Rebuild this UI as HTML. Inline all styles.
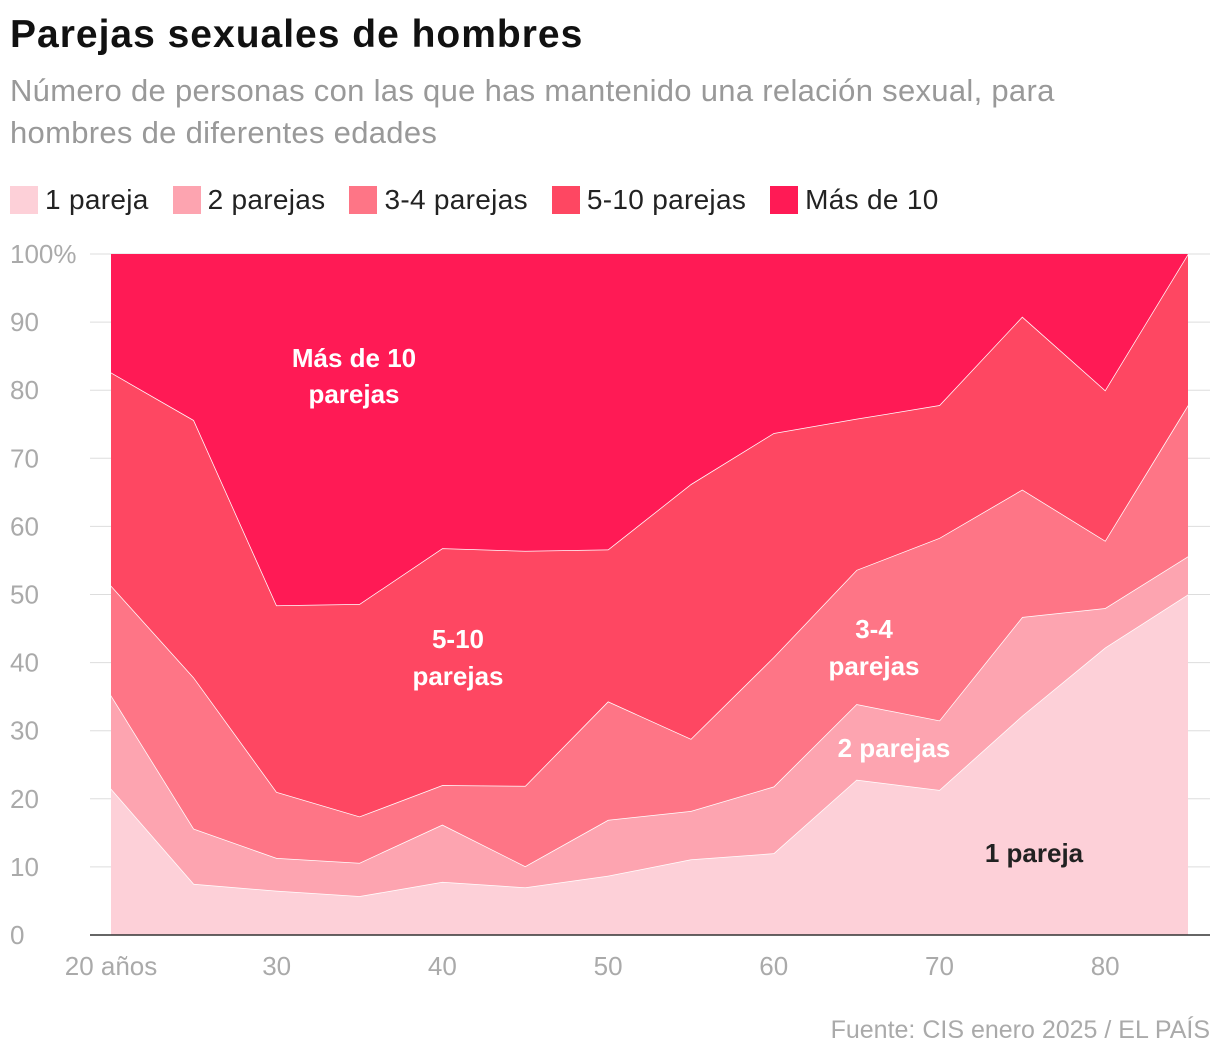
<!DOCTYPE html>
<html><head><meta charset="utf-8"><style>
body{margin:0;background:#fff;width:1220px;height:1060px;overflow:hidden;font-family:"Liberation Sans",sans-serif}
h1{position:absolute;left:10px;top:13px;margin:0;font-size:39px;font-weight:bold;color:#111;letter-spacing:1px}
.sub{position:absolute;left:10px;top:70px;font-size:31px;line-height:42px;color:#999;width:1120px;letter-spacing:0.3px}
.legend{position:absolute;left:10px;top:184px;font-size:28px;color:#222;display:flex;gap:24px;letter-spacing:0.3px}
.legend span{display:flex;align-items:center}
.legend i{display:inline-block;width:28px;height:28px;margin-right:7px}
</style></head><body>
<h1>Parejas sexuales de hombres</h1>
<div class="sub">Número de personas con las que has mantenido una relación sexual, para hombres de diferentes edades</div>
<div class="legend">
<span><i style="background:#fdd0d8"></i>1 pareja</span>
<span><i style="background:#fda4b0"></i>2 parejas</span>
<span><i style="background:#fe7586"></i>3-4 parejas</span>
<span><i style="background:#fe4762"></i>5-10 parejas</span>
<span><i style="background:#ff1a55"></i>Más de 10</span>
</div>
<svg id="chart" width="1220" height="1060" style="position:absolute;left:0;top:0"></svg>
<script>
const ages=[20,25,30,35,40,45,50,55,60,65,70,75,80,85];
const s1=[21.5,7.5,6.5,5.7,7.8,7,8.7,11.1,12,22.8,21.3,32.2,42.2,50];
const s2=[13.7,8.1,4.8,4.9,8.4,3.1,8.2,7.1,9.8,11.1,10.2,14.5,5.8,5.6];
const s3=[16.1,22.2,9.7,6.8,5.8,11.8,17.4,10.6,19,19.7,26.8,18.7,9.9,22.2];
const s4=[31.3,37.8,27.4,31.2,34.8,34.5,22.3,37.4,32.9,22.2,19.5,25.4,22.1,22.2];
const s5=ages.map((a,i)=>100-s1[i]-s2[i]-s3[i]-s4[i]);
const yTicks=[0,10,20,30,40,50,60,70,80,90,100];
const xTicks=[20,30,40,50,60,70,80];
const xLabels=["20 años","30","40","50","60","70","80"];
const colors=["#fdd0d8","#fda4b0","#fe7586","#fe4762","#ff1a55"];
const X=a=>111+(a-20)*(1188-111)/65, Y=v=>935-v*6.81;
const svg=document.getElementById('chart'),NS='http://www.w3.org/2000/svg';
function mk(t,at){const e=document.createElementNS(NS,t);for(const k in at)e.setAttribute(k,at[k]);svg.appendChild(e);return e;}
yTicks.forEach(v=>{const l=mk('line',{x1:90,x2:1210,y1:Y(v),y2:Y(v),stroke:'#ddd','stroke-width':1});

const t=mk('text',{x:10,y:Y(v)+9,'font-size':26,fill:'#aaa'});t.textContent=v===100?'100%':v;
});
const series=[s1,s2,s3,s4,s5];const names=['area-1-pareja','area-2-parejas','area-3-4-parejas','area-5-10-parejas','area-mas-de-10'];
let base=ages.map(()=>0);
series.forEach((s,k)=>{const top=base.map((b,i)=>b+s[i]);
let d=ages.map((a,i)=>(i?'L':'M')+X(a)+','+Y(top[i])).join('');
for(let i=ages.length-1;i>=0;i--)d+='L'+X(ages[i])+','+Y(base[i]);
const p=mk('path',{d:d+'Z',fill:colors[k]});
if(k<4){const l=mk('path',{d:ages.map((a,i)=>(i?'L':'M')+X(a)+','+Y(top[i])).join(''),fill:'none',stroke:'#fff','stroke-width':1.5});
}
base=top;});
const ax=mk('line',{x1:90,x2:1210,y1:935,y2:935,stroke:'#333','stroke-width':1.5});

xTicks.forEach((a,i)=>{const t=mk('text',{x:X(a),y:975,'font-size':26,fill:'#aaa','text-anchor':'middle'});t.textContent=xLabels[i];
});
const labs=[[354,367,'Más de 10','#fff'],[354,403,'parejas','#fff'],[458,648,'5-10','#fff'],[458,685,'parejas','#fff'],[874,638,'3-4','#fff'],[874,675,'parejas','#fff'],[894,757,'2 parejas','#fff'],[1034,862,'1 pareja','#222']];
labs.forEach(l=>{const t=mk('text',{x:l[0],y:l[1],'font-size':26,'font-weight':'bold',fill:l[3],'text-anchor':'middle'});t.textContent=l[2];
});
const src=mk('text',{x:1210,y:1038,'font-size':25,fill:'#aaa','text-anchor':'end'});src.textContent='Fuente: CIS enero 2025 / EL PAÍS';

</script>
</body></html>
